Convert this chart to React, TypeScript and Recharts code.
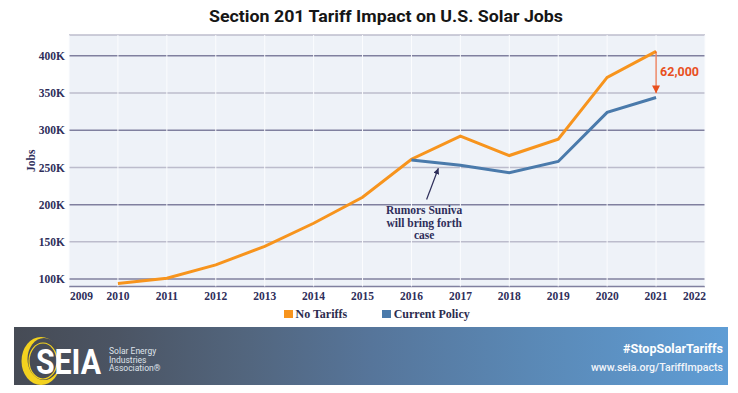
import React from 'react';
import { LineChart, Line, XAxis, YAxis, CartesianGrid, ReferenceLine, ReferenceDot, Legend } from 'recharts';

// ---- data ----
const years = [2010, 2011, 2012, 2013, 2014, 2015, 2016, 2017, 2018, 2019, 2020, 2021];
const noTariffs = [94000, 101000, 119000, 144000, 175000, 210000, 261000, 292000, 266000, 288000, 371000, 406000];
const currentPolicy = [null, null, null, null, null, null, 260000, 253000, 243000, 258000, 324000, 344000];
const xTicks = [2009, 2010, 2011, 2012, 2013, 2014, 2015, 2016, 2017, 2018, 2019, 2020, 2021, 2022];
const yTicks = [100000, 150000, 200000, 250000, 300000, 350000, 400000];
const seriesNames = ['No Tariffs', 'Current Policy'];
const seriesColors = ['#f7941d', '#4a7aab'];
const gapLabel = '62,000';
const noteLines = ['Rumors Suniva', 'will bring forth', 'case'];

const data = years.map((y, i) => ({ year: y, noTariffs: noTariffs[i], currentPolicy: currentPolicy[i] }));

const SERIF = "'Liberation Serif', 'Times New Roman', serif";
const SANS = "Roboto, 'Liberation Sans', Arial, sans-serif";
const NAVY = '#2e2e5a';
const RED = '#e8501e';

const fmtK = (v: number) => `${Math.round(v / 1000)}K`;

const XTick = (props: any) => {
  const { x, y, payload } = props;
  const v = payload.value;
  let anchor: any = 'middle';
  let dx = 0;
  if (v === xTicks[0]) { anchor = 'start'; dx = 1; }
  else if (v === xTicks[xTicks.length - 1]) { anchor = 'end'; dx = 1; }
  return (
    <text x={x + dx} y={y + 13.5} textAnchor={anchor} fontFamily={SERIF} fontWeight="bold" fontSize={11.5} fill={NAVY}>
      {v}
    </text>
  );
};

const gridLine = (p: any) => {
  const dark = p.index % 2 === 0;
  return (
    <line key={`h-${p.index}`} x1={p.x1} y1={p.y1} x2={p.x2} y2={p.y2}
      stroke={dark ? '#80809f' : '#bcbccc'} strokeWidth={1.5} />
  );
};

const LegendContent = () => (
  <div style={{ display: 'flex', alignItems: 'center', height: 16, paddingLeft: 284, fontFamily: SERIF, fontWeight: 'bold', fontSize: 12, color: '#2b2b4e' }}>
    {seriesNames.map((n, i) => (
      <div key={n} style={{ display: 'flex', alignItems: 'center', marginRight: 35 }}>
        <span style={{ display: 'inline-block', width: 8.5, height: 8, background: seriesColors[i], marginRight: 3 }} />
        <span>{n}</span>
      </div>
    ))}
  </div>
);

const GapText = (p: any) => (
  <text x={p.cx + 4} y={p.cy} dy="0.36em" fontFamily={SANS} fontWeight="bold" fontSize={12.5} fill={RED}>{gapLabel}</text>
);

const NoteText = (p: any) => (
  <text x={p.cx} y={p.cy} textAnchor="middle" fontFamily={SERIF} fontWeight="bold" fontSize={11.5} fill={NAVY}>
    {noteLines.map((l, i) => (
      <tspan key={i} x={p.cx} dy={i === 0 ? 0 : 12.5}>{l}</tspan>
    ))}
  </text>
);

export default function App() {
  return (
    <div style={{ position: 'absolute', left: 0, top: 0, width: 738, height: 393, background: '#ffffff', overflow: 'hidden' }}>
      <div style={{ position: 'absolute', left: 0, top: 0 }}>
        <LineChart width={738} height={330} data={data} margin={{ top: 35, right: 33, bottom: 23.5, left: 0 }}>
          <CartesianGrid fill="#eef2f8" stroke="#fbfcfe" strokeWidth={1} horizontal={gridLine} vertical={true} />
          <XAxis dataKey="year" type="number" domain={[2009, 2022]} ticks={xTicks} interval={0}
            axisLine={false} tickLine={false} tickSize={0} tickMargin={0} height={20} tick={<XTick />} />
          <YAxis type="number" domain={[90000, 428000]} ticks={yTicks} interval={0} allowDataOverflow
            axisLine={false} tickLine={false} tickSize={0} tickMargin={4} width={69}
            tickFormatter={fmtK}
            tick={{ fontFamily: SERIF, fontWeight: 'bold', fontSize: 11.5, fill: NAVY }}
            label={{ value: 'Jobs', angle: -90, position: 'center', dx: -4, style: { fontFamily: SERIF, fontWeight: 'bold', fontSize: 11.5, fill: NAVY } }} />
          <Line type="linear" dataKey="noTariffs" name={seriesNames[0]} stroke={seriesColors[0]} strokeWidth={3}
            dot={false} activeDot={false} isAnimationActive={false} connectNulls={false} />
          <Line type="linear" dataKey="currentPolicy" name={seriesNames[1]} stroke={seriesColors[1]} strokeWidth={3}
            dot={false} activeDot={false} isAnimationActive={false} connectNulls={false} />
          <ReferenceLine segment={[{ x: 2021, y: 406000 }, { x: 2021, y: 349500 }]} stroke={RED} strokeWidth={1}
            markerEnd="url(#redArrow)" />
          <ReferenceDot x={2021} y={378500} r={1} shape={<GapText />} />
          <ReferenceLine segment={[{ x: 2016.31, y: 207000 }, { x: 2016.55, y: 249000 }]} stroke={NAVY} strokeWidth={1.2}
            markerEnd="url(#navyArrow)" />
          <ReferenceDot x={2016.26} y={187300} r={1} shape={<NoteText />} />
          <Legend layout="horizontal" verticalAlign="middle" align="center" content={<LegendContent />}
            wrapperStyle={{ top: 306, left: 0, width: 738, height: 16 }} />
        </LineChart>
      </div>
      <svg width={738} height={393} style={{ position: 'absolute', left: 0, top: 0, pointerEvents: 'none' }}>
        <defs>
          <marker id="redArrow" markerUnits="userSpaceOnUse" markerWidth={8} markerHeight={8} viewBox="0 0 10 10" refX={10} refY={5} orient="auto">
            <path d="M0,0 L10,5 L0,10 z" fill={RED} />
          </marker>
          <marker id="navyArrow" markerUnits="userSpaceOnUse" markerWidth={6} markerHeight={6} viewBox="0 0 10 10" refX={10} refY={5} orient="auto">
            <path d="M0,0 L10,5 L0,10 z" fill={NAVY} />
          </marker>
          <linearGradient id="banner" x1="0" y1="0" x2="1" y2="0">
            <stop offset="0%" stopColor="#464b55" />
            <stop offset="14%" stopColor="#4b5463" />
            <stop offset="32%" stopColor="#52657d" />
            <stop offset="50%" stopColor="#56759a" />
            <stop offset="72%" stopColor="#5a88b5" />
            <stop offset="100%" stopColor="#5f9dd5" />
          </linearGradient>
        </defs>
        <text x={386} y={22} textAnchor="middle" fontFamily={SANS} fontWeight="bold" fontSize={17} fill="#161616"
          textLength={354} lengthAdjust="spacingAndGlyphs">Section 201 Tariff Impact on U.S. Solar Jobs</text>

        <rect x={14} y={327} width={714} height={58} fill="url(#banner)" />
        <ellipse cx={41} cy={361} rx={19.5} ry={24} fill="#f3d21f" />
        <ellipse cx={44} cy={359} rx={16.5} ry={21} fill="#474c56" />
        <ellipse cx={43} cy={361} rx={14} ry={18} fill="none" stroke="#f3d21f" strokeWidth={1.2} />
        <text x={36} y={374} fontFamily={SANS} fontWeight="bold" fontSize={35} fill="#ffffff"
          textLength={65} lengthAdjust="spacingAndGlyphs">SEIA</text>
        <text fontFamily={SANS} fontSize={8.5} fill="#dfe3ea">
          <tspan x={109} y={354}>Solar Energy</tspan>
          <tspan x={109} y={362.5}>Industries</tspan>
          <tspan x={109} y={371}>Association®</tspan>
        </text>
        <text x={723} y={353} textAnchor="end" fontFamily={SANS} fontWeight="bold" fontSize={13} fill="#ffffff"
          textLength={100} lengthAdjust="spacingAndGlyphs">#StopSolarTariffs</text>
        <text x={723} y={370.5} textAnchor="end" fontFamily={SANS} fontWeight={500} fontSize={10.5} fill="#f2f5fa"
          textLength={132} lengthAdjust="spacingAndGlyphs">www.seia.org/TariffImpacts</text>
      </svg>
    </div>
  );
}
